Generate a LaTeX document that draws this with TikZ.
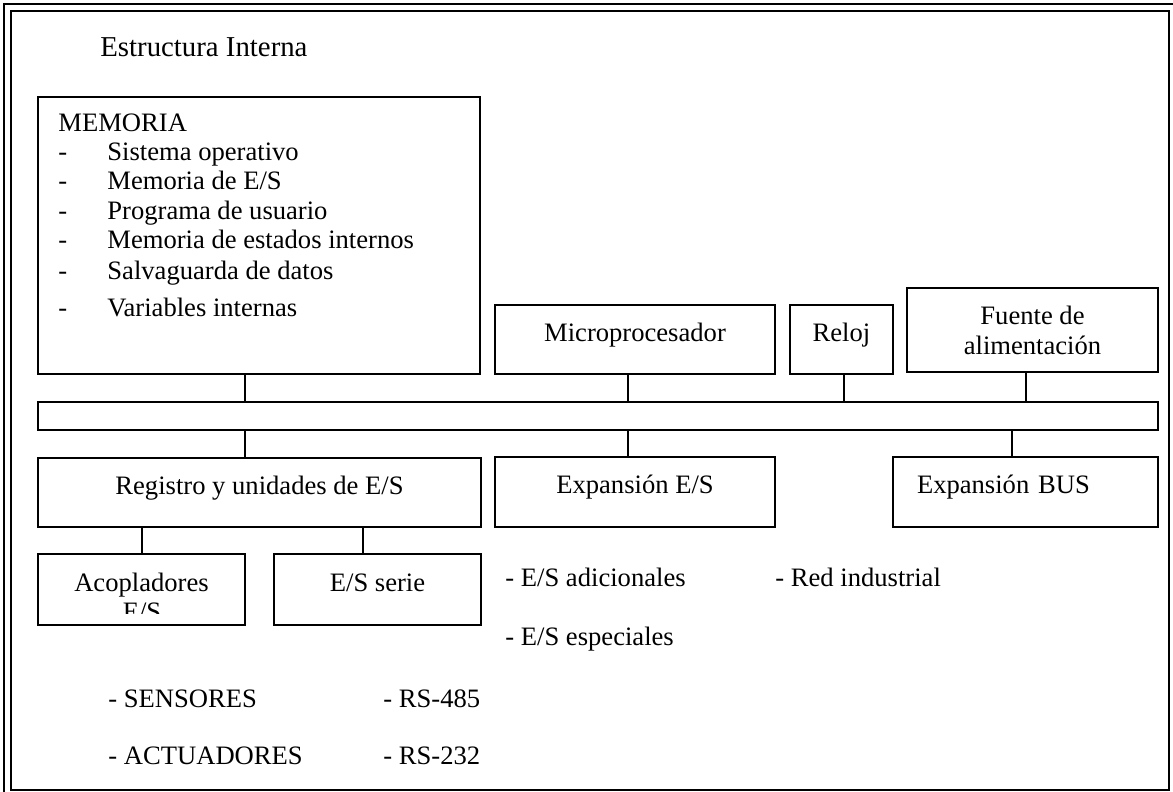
\documentclass[tikz,border=0pt]{standalone}
\usepackage{fontspec}
\setmainfont{Liberation Serif}

\begin{document}
\begin{tikzpicture}[x=0.5pt, y=-0.5pt,
    box/.style={draw, line width=0.8pt, rectangle, inner sep=0pt, align=center,
      font=\fontsize{13.3}{15}\selectfont},
    onel/.style={box, text height=8pt, text depth=6.5pt},
    txt/.style={anchor=base west, inner sep=0pt, font=\fontsize{13.3}{15}\selectfont},
    wire/.style={line width=0.8pt}]
            \useasboundingbox (0,0) rectangle (1173,792);

            % marco
            \draw[line width=1pt] (4,792) -- (4,4) -- (1173,4);
            \draw[line width=1pt] (11,11) rectangle (1168.5,790);

            \node[txt, font=\fontsize{14.4}{17}\selectfont] (titulo) at (100,57) {Estructura Interna};

            % memoria
            \node[box, minimum width=221pt, minimum height=138.5pt] (mem) at (259,235.5) {};
            \node[txt] (memtit) at (58,132) {MEMORIA};
            \foreach \y/\t [count=\i] in {161/{Sistema operativo}, 190/{Memoria de E/S},
                220/{Programa de usuario}, 249/{Memoria de estados internos},
                279/{Salvaguarda de datos}, 316/{Variables internas}} {
              \node[txt] (guion\i) at (58,\y) {-};
              \node[txt] (item\i) at (107,\y) {\t};
            }

            \node[onel, minimum width=140pt, minimum height=34.5pt] (micro) at (635,339.5) {Microprocesador};
            \node[onel, minimum width=51.5pt, minimum height=34.5pt] (reloj) at (841.5,339.5) {Reloj};
            \node[box, minimum width=125.5pt, minimum height=42pt] (fuente) at (1032.5,330) {Fuente de\\alimentación};

            % bus
            \node[box, minimum width=560pt, minimum height=14pt] (bus) at (598,416) {};

            \node[onel, minimum width=221.5pt, minimum height=34.5pt] (reg) at (259.5,492.5) {Registro y unidades de E/S};
            \node[onel, minimum width=140pt, minimum height=35pt] (expes) at (635,492) {Expansión E/S};
            \node[onel, minimum width=132.5pt, minimum height=35pt, text width=108.5pt,
                  align=left, inner xsep=12pt] (expbus) at (1025.5,492) {Expansión BUS};

            \node[onel, minimum width=103.5pt, minimum height=35.5pt] (acop) at (141.5,589.5) {Acopladores};
            \begin{scope}
              \clip (acop.north west) rectangle (245,613);
              \node[txt, anchor=base] (acopes) at (142,620.5) {E/S};
            \end{scope}
            \node[onel, minimum width=103.5pt, minimum height=35.5pt] (serie) at (377.5,589.5) {E/S serie};

            % conexiones
            \foreach \a/\b/\x in {mem/bus/245, micro/bus/628, reloj/bus/844, fuente/bus/1026,
                bus/reg/245, bus/expes/628, bus/expbus/1012, reg/acop/142, reg/serie/363}
              \draw[wire] (\a.south -| \x,0) -- (\b.north -| \x,0);

            \node[txt] (esad) at (505,586) {- E/S adicionales};
            \node[txt] (esesp) at (505,645) {- E/S especiales};
            \node[txt] (red) at (775,586) {- Red industrial};
            \node[txt] (sens) at (108,707) {- SENSORES};
            \node[txt] (act) at (108,764) {- ACTUADORES};
            \node[txt] (rs485) at (383,707) {- RS-485};
            \node[txt] (rs232) at (383,764) {- RS-232};
          \end{tikzpicture}
\end{document}
